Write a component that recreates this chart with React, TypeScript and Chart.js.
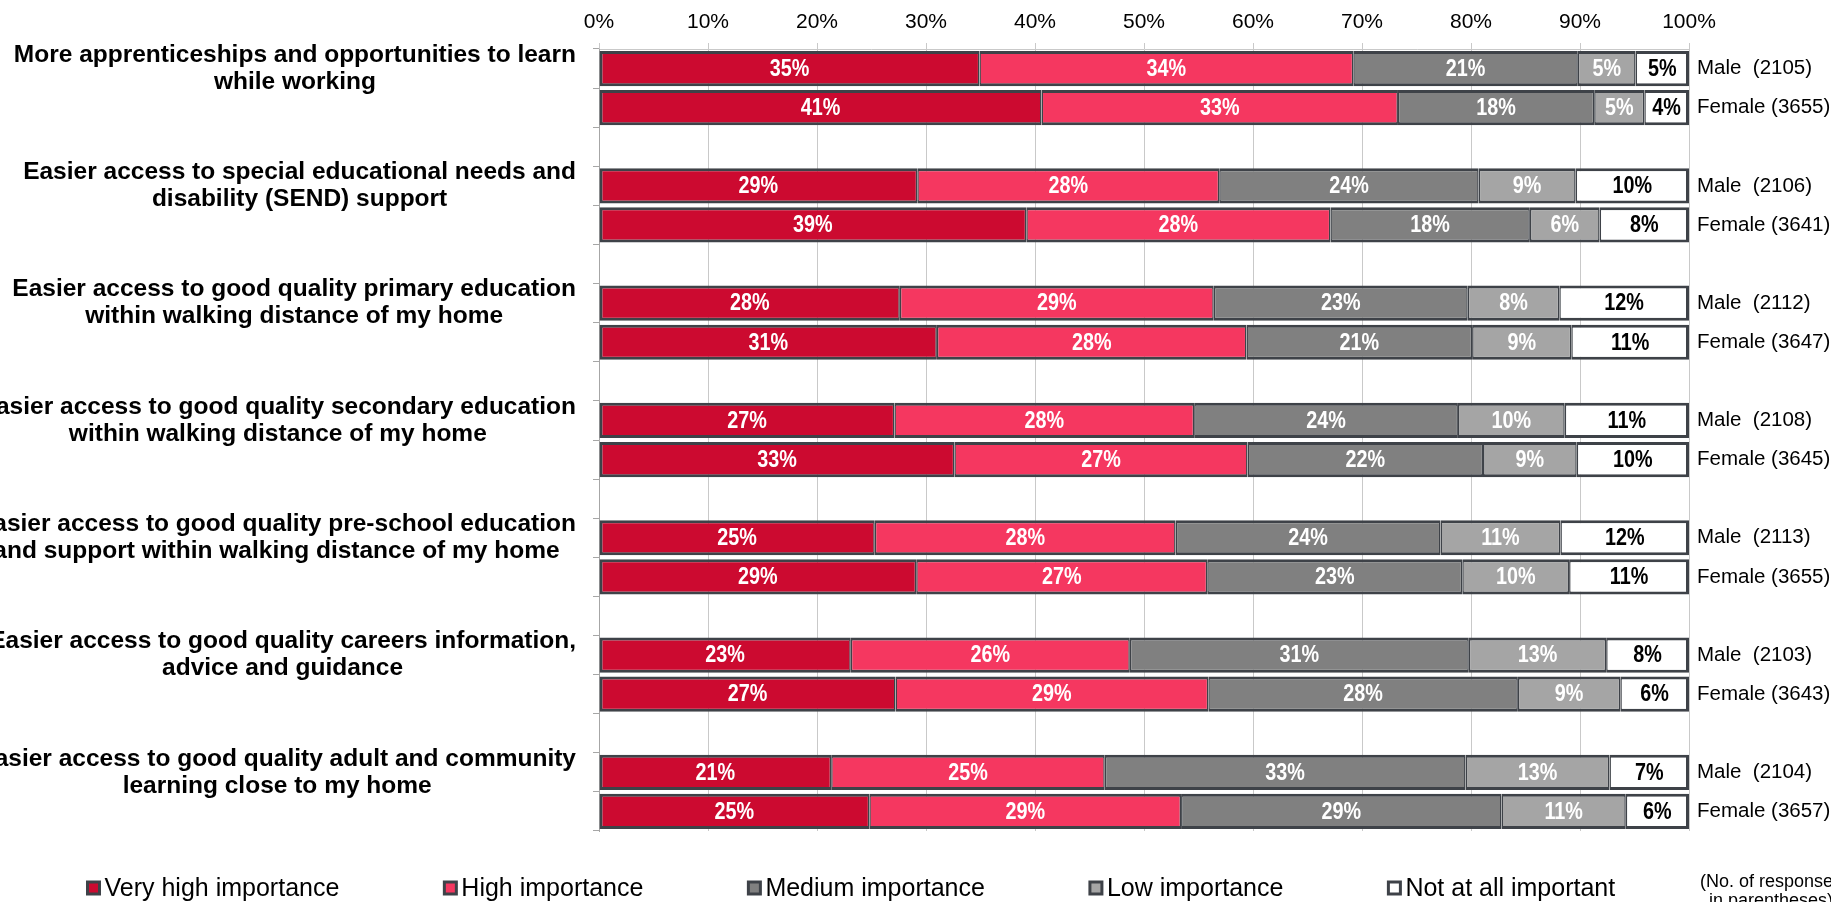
import React, { useEffect, useRef } from 'react';
import { Chart, registerables } from 'chart.js';

Chart.register(...registerables);

// ---------- DATA ----------
const groupLabels: string[][] = [
  ['More apprenticeships and opportunities to learn', 'while working'],
  ['Easier access to special educational needs and', 'disability (SEND) support'],
  ['Easier access to good quality primary education', 'within walking distance of my home'],
  ['Easier access to good quality secondary education', 'within walking distance of my home'],
  ['Easier access to good quality pre-school education', 'and support within walking distance of my home'],
  ['Easier access to good quality careers information,', 'advice and guidance'],
  ['Easier access to good quality adult and community', 'learning close to my home'],
];

const rowLabels: string[] = [
  'Male  (2105)', 'Female (3655)',
  'Male  (2106)', 'Female (3641)',
  'Male  (2112)', 'Female (3647)',
  'Male  (2108)', 'Female (3645)',
  'Male  (2113)', 'Female (3655)',
  'Male  (2103)', 'Female (3643)',
  'Male  (2104)', 'Female (3657)',
];

const seriesNames: string[] = [
  'Very high importance',
  'High importance',
  'Medium importance',
  'Low importance',
  'Not at all important',
];

const veryHigh: number[] = [34.9, 40.6, 29.2, 39.2, 27.6, 31.0, 27.1, 32.6, 25.3, 29.1, 23.1, 27.2, 21.3, 24.8];
const high: number[] = [34.3, 32.7, 27.7, 27.9, 28.8, 28.4, 27.5, 26.9, 27.6, 26.7, 25.6, 28.7, 25.1, 28.6];
const medium: number[] = [20.6, 18.0, 23.8, 18.3, 23.3, 20.7, 24.2, 21.6, 24.3, 23.4, 31.1, 28.4, 33.1, 29.4];
const low: number[] = [5.3, 4.6, 8.9, 6.4, 8.4, 9.1, 9.8, 8.6, 11.0, 9.8, 12.6, 9.4, 13.2, 11.4];
const notAtAll: number[] = [4.9, 4.1, 10.4, 8.2, 11.9, 10.8, 11.4, 10.3, 11.8, 11.0, 7.6, 6.3, 7.3, 5.8];

const noteLines: string[] = ['(No. of responses', 'in parentheses)'];

// ---------- STYLE ----------
const colors = ['#CC0A30', '#F53760', '#808080', '#A5A5A5', '#FFFFFF'];
const labelColors = ['#FFFFFF', '#FFFFFF', '#FFFFFF', '#FFFFFF', '#000000'];
const borderDark = '#3E4248';
const FONT = '"Liberation Sans", Arial, sans-serif';

const W = 1831;
const H = 902;
const PLOT_LEFT = 599;
const PLOT_RIGHT = 1689;
const PLOT_TOP = 49;
const PLOT_BOTTOM = 831;

// expand 14 rows into 20 slots (blank slot between groups)
function expand<T>(arr: T[], blank: T): T[] {
  const out: T[] = [];
  for (let g = 0; g < 7; g++) {
    out.push(arr[g * 2], arr[g * 2 + 1]);
    if (g < 6) out.push(blank);
  }
  return out;
}

export default function App() {
  const ref = useRef<HTMLCanvasElement | null>(null);

  useEffect(() => {
    if (!ref.current) return;

    const slotLabels = expand(rowLabels, '');
    const series = [veryHigh, high, medium, low, notAtAll];

    const datasets = series.map((vals, i) => ({
      label: seriesNames[i],
      data: expand<number | null>(vals, null),
      backgroundColor: colors[i],
      borderColor: borderDark,
      borderWidth: {
        top: 3,
        bottom: 3,
        left: i === 0 ? 3 : 1.5,
        right: i === series.length - 1 ? 3 : 1.5,
      },
      borderSkipped: false as const,
      barPercentage: 0.9,
      categoryPercentage: 1.0,
      xAxisID: 'x',
      yAxisID: 'y',
    }));

    const labelsPlugin = {
      id: 'customText',
      afterDatasetsDraw(chart: any) {
        const ctx = chart.ctx;
        chart.data.datasets.forEach((ds: any, i: number) => {
          const meta = chart.getDatasetMeta(i);
          meta.data.forEach((el: any, j: number) => {
            const v = ds.data[j];
            if (v === null || v === undefined) return;
            const p = el.getProps(['x', 'y', 'base'], true);
            ctx.save();
            ctx.translate((p.x + p.base) / 2, p.y + 1);
            ctx.scale(0.86, 1);
            ctx.font = `bold 23px ${FONT}`;
            ctx.textAlign = 'center';
            ctx.textBaseline = 'middle';
            ctx.fillStyle = labelColors[i];
            ctx.fillText(`${Math.round(v)}%`, 0, 0);
            ctx.restore();
          });
        });
      },
      afterDraw(chart: any) {
        const ctx = chart.ctx;
        const yScale = chart.scales.y;
        ctx.save();
        // group labels on the left (centered lines, block right-aligned)
        ctx.font = `bold 24.5px ${FONT}`;
        ctx.fillStyle = '#000000';
        ctx.textAlign = 'center';
        ctx.textBaseline = 'middle';
        const rightEdge = 576;
        const lineH = 27;
        groupLabels.forEach((lines, g) => {
          const yc = yScale.getPixelForValue(g * 3);
          const widest = Math.max(...lines.map((l) => ctx.measureText(l).width));
          const cx = rightEdge - widest / 2;
          lines.forEach((l, k) => {
            ctx.fillText(l, cx, yc + (k - (lines.length - 1) / 2) * lineH);
          });
        });

        // legend
        ctx.font = `25px ${FONT}`;
        ctx.textAlign = 'left';
        let x = 86;
        const cy = 888;
        chart.data.datasets.forEach((ds: any, i: number) => {
          ctx.fillStyle = borderDark;
          ctx.fillRect(x, cy - 7.5, 15, 15);
          ctx.fillStyle = colors[i];
          ctx.fillRect(x + 3, cy - 4.5, 9, 9);
          ctx.fillStyle = '#000000';
          ctx.fillText(ds.label, x + 18.5, cy + 1);
          x += ctx.measureText(ds.label).width + 122;
        });

        // note
        ctx.font = `18px ${FONT}`;
        ctx.textAlign = 'center';
        ctx.fillText(noteLines[0], 1771, 882);
        ctx.fillText(noteLines[1], 1771, 901);
        ctx.restore();
      },
    };

    const chart = new Chart(ref.current, {
      type: 'bar',
      data: { labels: slotLabels, datasets: datasets as any },
      options: {
        indexAxis: 'y',
        animation: false,
        responsive: false,
        maintainAspectRatio: false,
        devicePixelRatio: 1,
        layout: { padding: { left: 0, right: 0, top: 0, bottom: H - PLOT_BOTTOM } },
        plugins: {
          legend: { display: false },
          tooltip: { enabled: false },
          title: { display: false },
        },
        scales: {
          x: {
            type: 'linear',
            position: 'top',
            stacked: true,
            min: 0,
            max: 100,
            ticks: {
              stepSize: 10,
              callback: (v: any) => `${v}%`,
              font: { family: FONT, size: 21 },
              color: '#000000',
              padding: 8,
            },
            grid: { color: '#C9C9C9', lineWidth: 1, drawTicks: true, tickLength: 6 },
            border: { display: true, color: '#C9C9C9' },
            afterFit: (s: any) => { s.height = PLOT_TOP; },
          },
          y: {
            type: 'category',
            position: 'left',
            stacked: true,
            offset: true,
            ticks: { display: false },
            grid: { display: true, drawOnChartArea: false, drawTicks: true, tickLength: 6, color: '#A6A6A6', offset: true },
            border: { display: true, color: '#A6A6A6' },
            afterFit: (s: any) => { s.width = PLOT_LEFT; },
          },
          y2: {
            type: 'category',
            axis: 'y',
            position: 'right',
            labels: slotLabels,
            offset: true,
            ticks: { font: { family: FONT, size: 20.5 }, color: '#000000', padding: 8, autoSkip: false },
            grid: { display: false, drawTicks: false },
            border: { display: false },
            afterFit: (s: any) => { s.width = W - PLOT_RIGHT; },
          },
        },
      } as any,
      plugins: [labelsPlugin],
    });

    return () => chart.destroy();
  }, []);

  return (
    <div style={{ position: 'absolute', left: 0, top: 0, width: W, height: H, background: '#fff' }}>
      <canvas ref={ref} width={W} height={H} style={{ display: 'block', width: W, height: H }} />
    </div>
  );
}
